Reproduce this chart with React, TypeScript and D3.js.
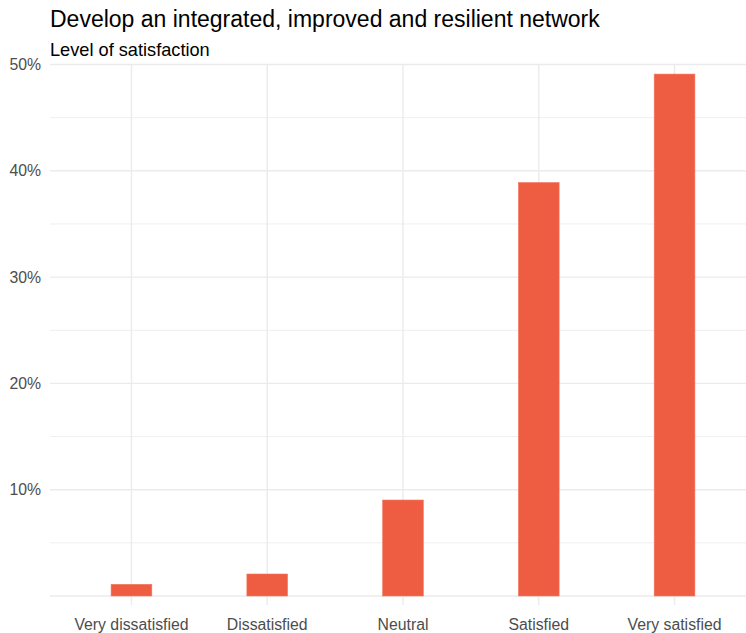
import React from 'react'
import * as d3 from 'd3'

const categories = ['Very dissatisfied', 'Dissatisfied', 'Neutral', 'Satisfied', 'Very satisfied']
const shares = [1.1, 2.07, 9.03, 38.9, 49.1]
const majorTicks = [10, 20, 30, 40, 50]
const minorTicks = [5, 15, 25, 35, 45]

const title = 'Develop an integrated, improved and resilient network'
const subtitle = 'Level of satisfaction'

const W = 746
const H = 633
const panel = { left: 50, right: 756, top: 65, bottom: 605 }

export default function App() {
  // discrete x with ggplot-ish 0.6 expansion on each side
  const x = d3.scaleLinear()
    .domain([0.4, categories.length + 0.6])
    .range([panel.left, panel.right])
  const y = d3.scaleLinear().domain([0, 50]).range([596, 64.5])
  const barW = (x(1.3) - x(1))

  const font = '"Liberation Sans", Arial, sans-serif'

  return (
    <svg width={W} height={H} style={{ position: 'absolute', left: 0, top: 0, background: '#fff' }}
      fontFamily={font}>
      {/* minor grid */}
      {minorTicks.map((t) => (
        <line key={'mi' + t} x1={panel.left} x2={panel.right} y1={y(t)} y2={y(t)}
          stroke="#ebebeb" strokeWidth={0.8} />
      ))}
      {/* major grid */}
      {[0, ...majorTicks].map((t) => (
        <line key={'ma' + t} x1={panel.left} x2={panel.right} y1={y(t)} y2={y(t)}
          stroke="#ebebeb" strokeWidth={1.4} />
      ))}
      {categories.map((c, i) => (
        <line key={'v' + c} x1={x(i + 1)} x2={x(i + 1)} y1={panel.top} y2={panel.bottom}
          stroke="#ebebeb" strokeWidth={1.4} />
      ))}

      {categories.map((c, i) => (
        <rect key={'b' + c} x={x(i + 1) - barW / 2} y={y(shares[i])}
          width={barW} height={y(0) - y(shares[i])}
          fill="#EE5C42" stroke="#F27A63" strokeWidth={0.6} />
      ))}

      {majorTicks.map((t) => (
        <text key={'yl' + t} x={41} y={y(t)} dy="0.36em" textAnchor="end"
          fontSize={15.8} fill="#4d4d4d">{t + '%'}</text>
      ))}
      {categories.map((c, i) => (
        <text key={'xl' + c} x={x(i + 1)} y={629.5} textAnchor="middle"
          fontSize={15.8} fill="#4d4d4d">{c}</text>
      ))}

      <text x={50} y={26.5} fontSize={23} fill="#000">{title}</text>
      <text x={50} y={56} fontSize={18.2} fill="#000">{subtitle}</text>
    </svg>
  )
}
